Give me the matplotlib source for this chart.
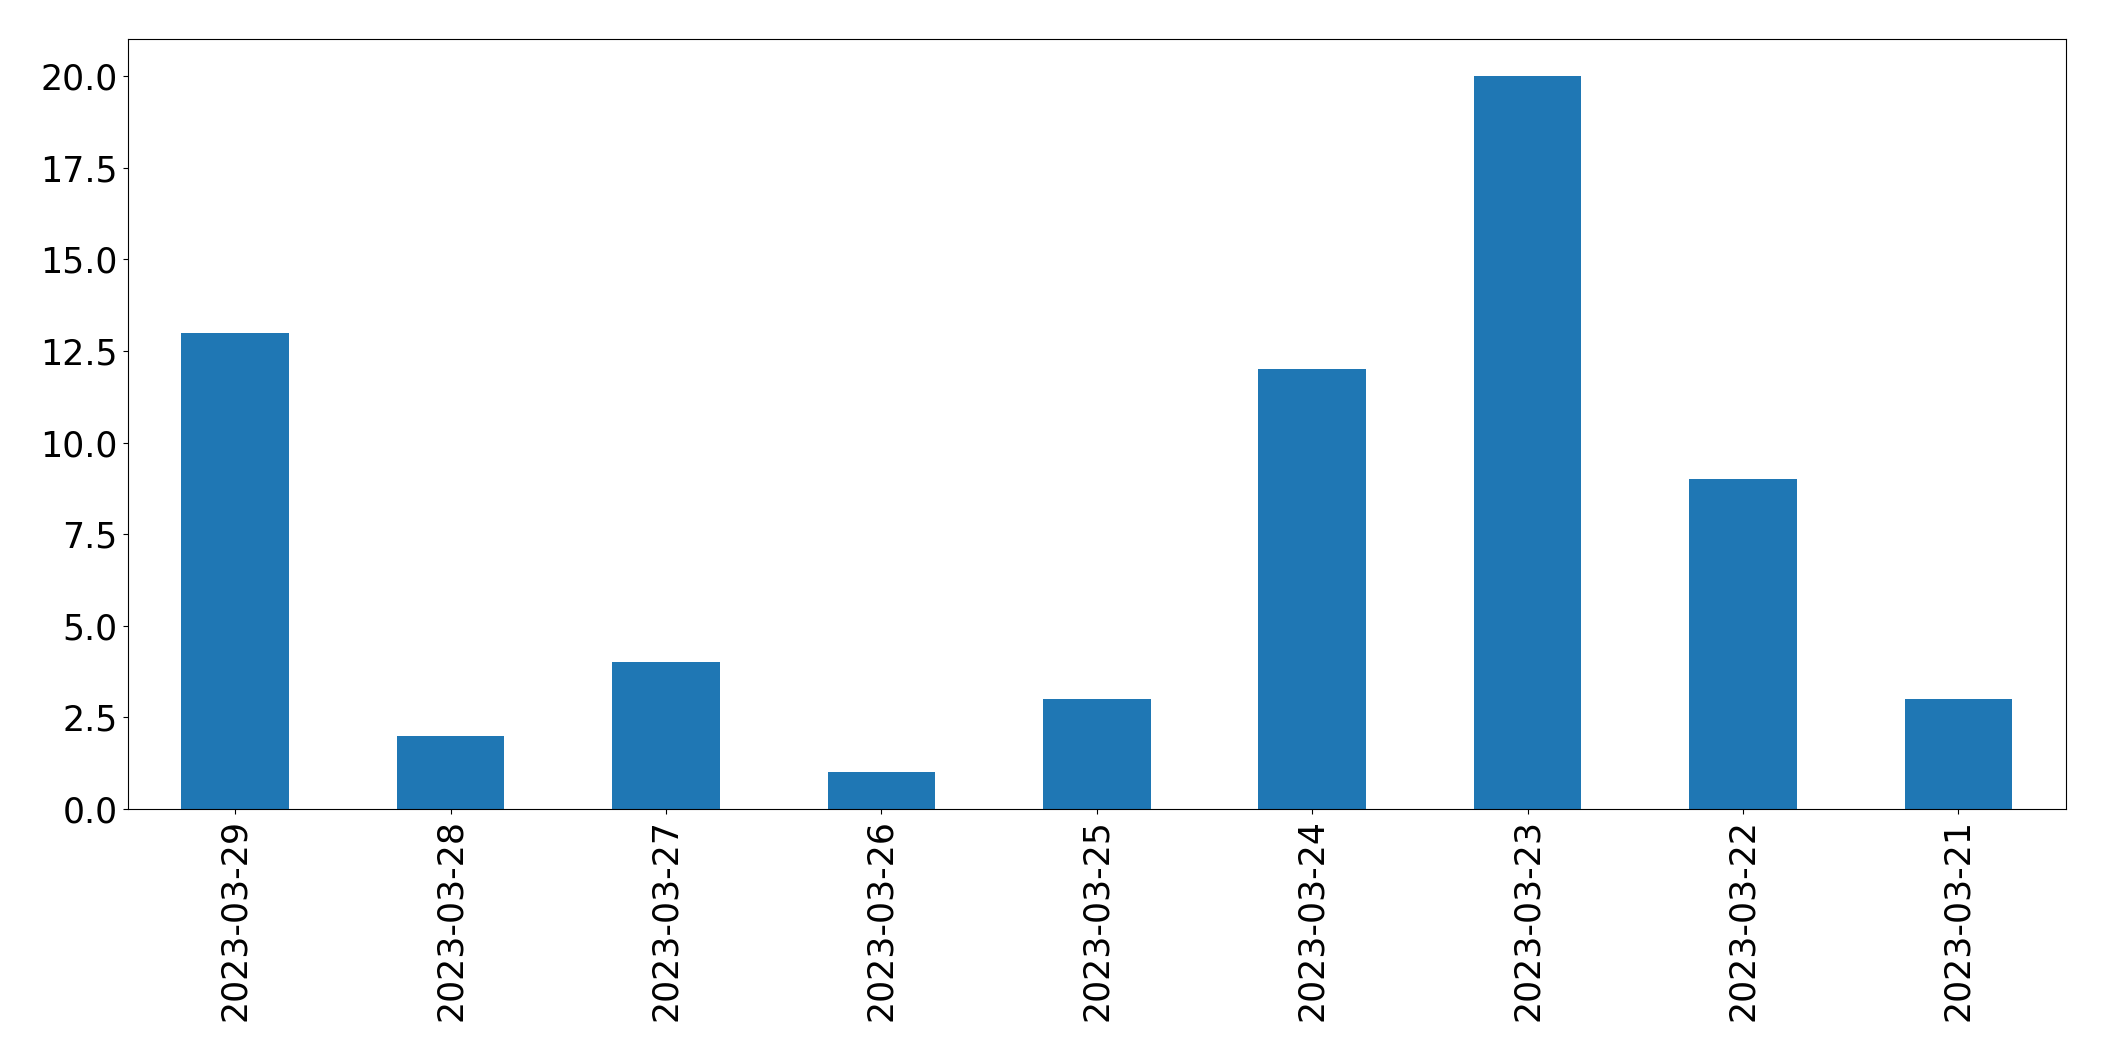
import numpy as np
import matplotlib.pyplot as plt

dates = ['2023-03-29', '2023-03-28', '2023-03-27', '2023-03-26', '2023-03-25',
         '2023-03-24', '2023-03-23', '2023-03-22', '2023-03-21']
counts = [13, 2, 4, 1, 3, 12, 20, 9, 3]

plt.rcParams['font.size'] = 25

fig, ax = plt.subplots(figsize=(21.04, 10.61), dpi=100)
fig.subplots_adjust(left=0.0606, right=0.982, top=0.9628, bottom=0.2375)

x = np.arange(len(dates))
ax.bar(x, counts, width=0.5, color='#1f77b4')
ax.set_xlim(-0.5, len(dates) - 0.5)
ax.set_xticks(x)
ax.set_xticklabels(dates, rotation=90)

fig.savefig('out.png', dpi=100)
